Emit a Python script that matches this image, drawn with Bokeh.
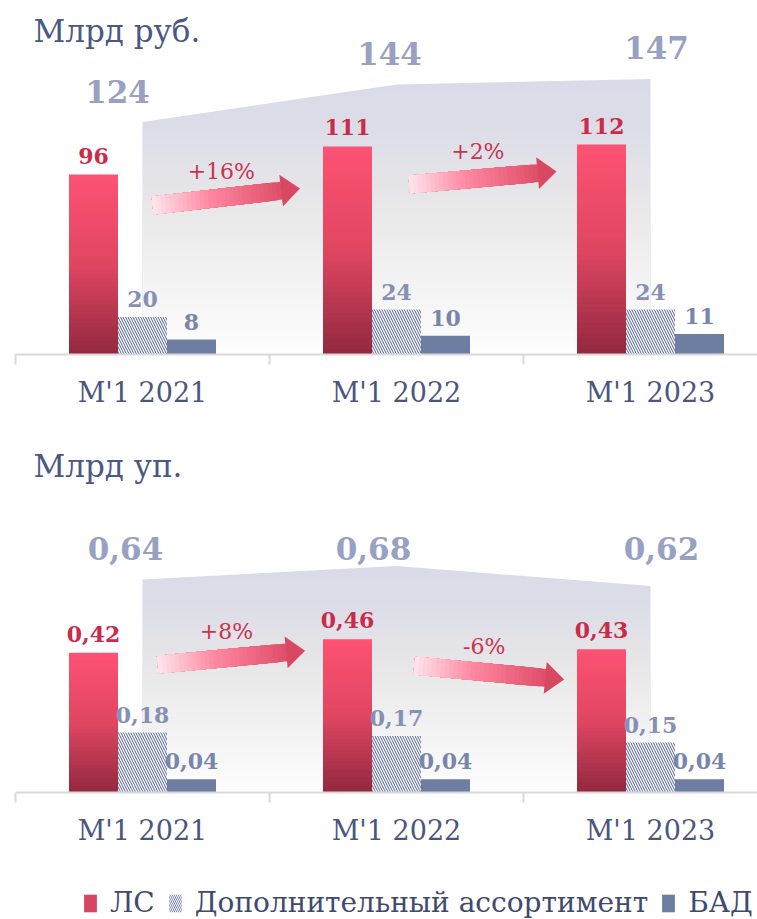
import numpy as np
from bokeh.plotting import figure
from bokeh.models import Range1d, FixedTicker, ColumnDataSource, Label, Legend, LegendItem
from bokeh.layouts import column
from bokeh.core.properties import value
from bokeh.embed import file_html
from bokeh.resources import INLINE

# ---------------- data ----------------
CATEGORIES = ["М'1 2021", "М'1 2022", "М'1 2023"]
SERIES = ["ЛС", "Дополнительный ассортимент", "БАД"]

RUB_LS = [96, 111, 112]
RUB_DOP = [20, 24, 24]
RUB_BAD = [8, 10, 11]
RUB_TOTAL = [124, 144, 147]
RUB_GROWTH = ["+16%", "+2%"]

UP_LS = [0.42, 0.46, 0.43]
UP_DOP = [0.18, 0.17, 0.15]
UP_BAD = [0.04, 0.04, 0.04]
UP_TOTAL = [0.64, 0.68, 0.62]
UP_GROWTH = ["+8%", "-6%"]

# ---------------- styling / layout ----------------
FONT = "DejaVu Serif"
SX = 254.0            # px per category
X0 = -0.5
FRAME_W = 742
BW = 49.0 / SX        # bar width in category units

LS_STOPS = [(0.0, (146, 40, 64)), (0.5, (224, 70, 97)), (1.0, (253, 82, 115))]
ARROW_STOPS = [(0.0, (253, 230, 236)), (0.45, (255, 135, 160)), (1.0, (222, 78, 105))]
HEAD_COLOR = "#d94862"
LS_LABEL = "#c92b48"
DOP_LABEL = "#8590b4"
BAD_LABEL = "#7886ab"
BAD_FILL = "#6e7ea3"
HATCH_COLOR = "#4f5e95"
TOTAL_COLOR = "#98a1c2"
AXIS_TEXT = "#4b5680"
GROWTH_COLOR = "#c8334f"


def lerp_color(stops, t):
    for (p0, c0), (p1, c1) in zip(stops[:-1], stops[1:]):
        if t <= p1:
            f = (t - p0) / (p1 - p0)
            return "#%02x%02x%02x" % tuple(int(round(a + (b - a) * f)) for a, b in zip(c0, c1))
    return "#%02x%02x%02x" % stops[-1][1]


def add_arrow(p, sy, tail, tip, label):
    t = np.array([tail[0] * SX, tail[1] * sy])
    h = np.array([tip[0] * SX, tip[1] * sy])
    d = h - t
    L = float(np.hypot(d[0], d[1]))
    u = d / L
    nrm = np.array([-u[1], u[0]])
    HL, HW, ST = 19.0, 16.0, 9.0
    shaft = L - HL
    NS = 30
    xs_l, ys_l, cols = [], [], []
    # nested pieces (longest first) so there are no seams
    for k in range(NS - 1, -1, -1):
        s1 = shaft * (k + 1) / NS + (0.5 if k == NS - 1 else 0.0)
        pts = [t + nrm * ST, t + u * s1 + nrm * ST, t + u * s1 - nrm * ST, t - nrm * ST]
        xs_l.append([q[0] / SX for q in pts])
        ys_l.append([q[1] / sy for q in pts])
        cols.append(lerp_color(ARROW_STOPS, (k + 0.5) / NS))
    p.patches(xs_l, ys_l, fill_color=cols, line_color=None)
    head = [t + u * shaft + nrm * HW, h, t + u * shaft - nrm * HW]
    p.patch([q[0] / SX for q in head], [q[1] / sy for q in head], fill_color=HEAD_COLOR, line_color=None)
    mx, my = (tail[0] + tip[0]) / 2, (tail[1] + tip[1]) / 2
    p.text(x=[mx], y=[my], text=[label], x_offset=-5, y_offset=-26,
           text_align="center", text_baseline="middle",
           text_font=value(FONT), text_font_size="22px", text_color=GROWTH_COLOR)


def make_chart(ls, dop, bad, total, growth, fmt, sy, frame_h, top_border, bottom_border,
               title, title_dy, arrows, total_dx, total_at_max, total_dy):
    n = len(CATEGORIES)
    xs = np.arange(n, dtype=float)
    y_end = frame_h / sy
    p = figure(width=15 + FRAME_W, height=top_border + frame_h + bottom_border,
               x_range=Range1d(X0, X0 + FRAME_W / SX), y_range=Range1d(0, y_end),
               output_backend="svg", toolbar_location=None, y_axis_location=None,
               min_border_left=15, min_border_right=0, min_border_top=top_border,
               min_border_bottom=bottom_border)
    p.outline_line_color = None
    p.grid.visible = False

    # shaded total area with vertical gradient (gray at top -> white at bottom)
    p.varea(x=xs, y1=0, y2=total, fill_color="#d9dce8")
    N = 40
    ymax = max(total)
    tops = [ymax * (N - j) / N for j in range(N)]
    Q = [1.0] + [(N - m + 0.5) / N for m in range(1, N + 1)]
    alphas = [1 - Q[j + 1] / Q[j] for j in range(N)]
    p.quad(left=xs[0], right=xs[-1], bottom=0, top=tops,
           fill_color="white", fill_alpha=alphas, line_color=None)

    # ЛС bars with vertical gradient: nested layers, tallest first
    NB = 40
    rows = dict(x=[], top=[], color=[])
    for i, v in enumerate(ls):
        for k in range(NB - 1, -1, -1):
            rows["x"].append(xs[i] - BW)
            rows["top"].append(v * (k + 1) / NB)
            rows["color"].append(lerp_color(LS_STOPS, (k + 0.5) / NB))
    p.vbar(x="x", bottom=0, top="top", width=BW, fill_color="color",
           line_color=None, source=ColumnDataSource(rows))
    p.vbar(x=xs, top=dop, width=BW, fill_color="white", line_color=None,
           hatch_pattern="left_diagonal_line", hatch_color=HATCH_COLOR,
           hatch_scale=5, hatch_weight=1.0)
    p.vbar(x=xs + BW, top=bad, width=BW, fill_color=BAD_FILL, line_color=None)

    lab = dict(text_align="center", text_baseline="middle", text_font=value(FONT),
               text_font_style="bold")
    p.text(x=xs - BW, y=ls, text=[fmt(v) for v in ls], y_offset=-19,
           text_font_size="22px", text_color=LS_LABEL, **lab)
    p.text(x=xs, y=dop, text=[fmt(v) for v in dop], y_offset=-18,
           text_font_size="22px", text_color=DOP_LABEL, **lab)
    p.text(x=xs + BW, y=bad, text=[fmt(v) for v in bad], y_offset=-18,
           text_font_size="22px", text_color=BAD_LABEL, **lab)
    ty = [max(total)] * n if total_at_max else total
    p.text(x=xs, y=ty, text=[fmt(v) for v in total], x_offset=total_dx, y_offset=-total_dy,
           text_font_size="31px", text_color=TOTAL_COLOR, **lab)

    for (tx, tyy, hx, hy), g in zip(arrows, growth):
        add_arrow(p, sy, (tx, tyy), (hx, hy), g)

    p.add_layout(Label(x=X0, x_offset=18, y=y_end, y_offset=-title_dy, text=title,
                       text_baseline="middle", text_font=FONT, text_font_size="31px",
                       text_color="#4b5883"))

    ax = p.xaxis[0]
    ax.ticker = FixedTicker(ticks=list(xs), minor_ticks=[x - 0.5 for x in range(n + 1)])
    ax.major_label_overrides = {i: c for i, c in enumerate(CATEGORIES)}
    ax.axis_line_color = "#d9d9d9"
    ax.axis_line_width = 2
    ax.major_tick_line_color = None
    ax.major_tick_out = 10
    ax.major_tick_in = 0
    ax.minor_tick_line_color = "#d9d9d9"
    ax.minor_tick_line_width = 2
    ax.minor_tick_out = 10
    ax.minor_tick_in = 0
    ax.major_label_text_font = FONT
    ax.major_label_text_font_size = "27px"
    ax.major_label_text_color = AXIS_TEXT
    ax.major_label_standoff = 12
    return p


def fmt_rub(v):
    return str(int(v))


def fmt_up(v):
    return f"{v:.2f}".replace(".", ",")


p1 = make_chart(RUB_LS, RUB_DOP, RUB_BAD, RUB_TOTAL, RUB_GROWTH, fmt_rub,
                sy=1.875, frame_h=346, top_border=8, bottom_border=76,
                title="Млрд руб.", title_dy=22,
                arrows=[(0.04, 79.5, 0.62, 88.5), (1.05, 90.7, 1.63, 97.6)],
                total_dx=[-25, -7, 6], total_at_max=False, total_dy=31)
p2 = make_chart(UP_LS, UP_DOP, UP_BAD, UP_TOTAL, UP_GROWTH, fmt_up,
                sy=333.0, frame_h=362, top_border=0, bottom_border=68,
                title="Млрд уп.", title_dy=35,
                arrows=[(0.06, 0.384, 0.64, 0.426), (1.07, 0.381, 1.66, 0.339)],
                total_dx=[-17, -23, 11], total_at_max=True, total_dy=18)

# legend strip
p3 = figure(width=15 + FRAME_W, height=59, x_range=Range1d(0, 1), y_range=Range1d(0, 1),
            output_backend="svg", toolbar_location=None, x_axis_location=None,
            y_axis_location=None, min_border=0)
p3.outline_line_color = None
p3.grid.visible = False
d1 = p3.vbar(x=[0.5], top=[0], width=0.1, fill_color="#d94460", line_color=None)
d2 = p3.vbar(x=[0.5], top=[0], width=0.1, fill_color="white", line_color=None,
             hatch_pattern="left_diagonal_line", hatch_color="#7d89b5",
             hatch_scale=4, hatch_weight=1.0)
d3 = p3.vbar(x=[0.5], top=[0], width=0.1, fill_color=BAD_FILL, line_color=None)
legend = Legend(items=[LegendItem(label=SERIES[0], renderers=[d1]),
                       LegendItem(label=SERIES[1], renderers=[d2]),
                       LegendItem(label=SERIES[2], renderers=[d3])],
                orientation="horizontal", location=(67, 0), glyph_width=16,
                glyph_height=22, label_standoff=12, spacing=12, padding=0, margin=0,
                border_line_color=None, background_fill_alpha=0,
                label_text_font=FONT, label_text_font_size="28px",
                label_text_color="#3f4a6d")
p3.add_layout(legend)

layout = column(p1, p2, p3, spacing=0)
open("out.html", "w").write(file_html(layout, INLINE))
